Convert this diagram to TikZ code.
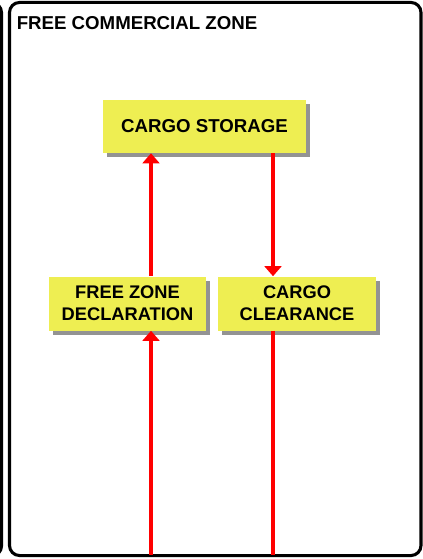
\documentclass[tikz,border=0pt]{standalone}
\usepackage{fontspec}
\setmainfont{Liberation Sans}
\usetikzlibrary{arrows.meta,shadows}
\definecolor{boxyellow}{RGB}{238,238,82}
\definecolor{flowred}{RGB}{255,0,0}
\tikzset{
  frame/.style={draw=black, line width=2.3pt, rounded corners=7.5pt},
  stagebox/.style={fill=boxyellow, draw=none, align=center, inner sep=0pt,
    font=\bfseries\fontsize{13.7}{16.3}\selectfont,
    drop shadow={shadow xshift=3pt, shadow yshift=-3pt, fill=gray!85, opacity=1}},
  flow/.style={draw=flowred, line width=2.7pt},
  flowtip/.style={flow, -{Triangle[width=12.5pt, length=7.5pt]}}
}
\begin{document}
\begin{tikzpicture}[x=0.75pt, y=-0.75pt]
  \useasboundingbox (0,0) rectangle (423,559);
  \begin{scope}
    \clip (0,0) rectangle (423,559);
    % right edge of the neighbouring panel
    \draw[frame] (-60,2.5) rectangle (1.5,556);
  \end{scope}
  % the zone panel
  \node[frame, minimum width=308.6pt, minimum height=414.8pt, inner sep=0pt]
    (zone) at (215.25,279) {};
  \node[anchor=base west, inner sep=0pt, font=\bfseries\fontsize{14}{16}\selectfont]
    (title) at (16.5,29.3) {FREE COMMERCIAL ZONE};

  % stages
  \node[stagebox, minimum width=152.25pt, minimum height=39.75pt,
        font=\bfseries\fontsize{14}{16}\selectfont]
    (storage) at (204.5,126.5) {CARGO STORAGE};
  \node[stagebox, minimum width=118pt, minimum height=40.5pt]
    (decl) at (127.5,303.5) {FREE ZONE\\DECLARATION};
  \node[stagebox, minimum width=118pt, minimum height=40.5pt]
    (clear) at (297,303.5) {CARGO\\CLEARANCE};

  % entry and exit points on the lower edge of the zone
  \coordinate (inL) at (151,555);
  \coordinate (outR) at (273,555);

  % flows
  \draw[flowtip] (inL) -- (inL |- decl.south);
  \draw[flowtip] (inL |- decl.north) -- (inL |- storage.south);
  \draw[flowtip] (outR |- storage.south) -- (outR |- clear.north);
  \draw[flow] (outR |- clear.south) -- (outR);
\end{tikzpicture}
\end{document}
